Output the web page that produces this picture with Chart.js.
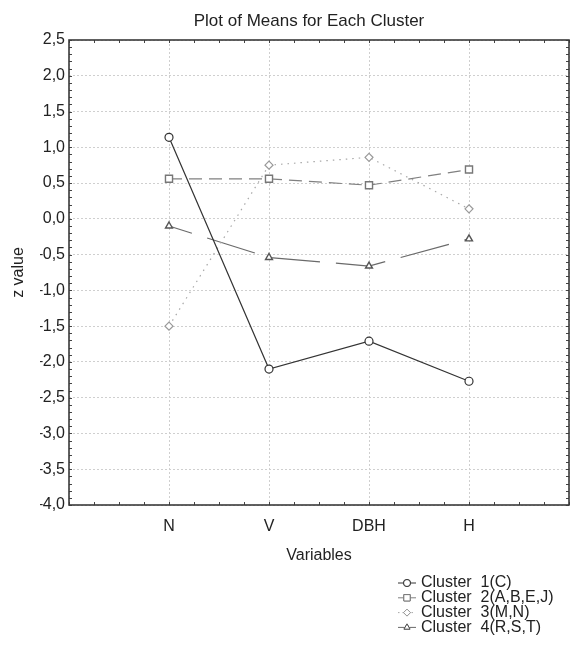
<!DOCTYPE html>
<html>
<head>
<meta charset="utf-8">
<script src="https://cdn.jsdelivr.net/npm/chart.js@4.4.1/dist/chart.umd.min.js"></script>
<style>
    body { margin: 0; background: #fff; }
    #wrap { width: 581px; height: 656px; }
</style>
</head>
<body>
<div id="wrap"><canvas id="meansChart" width="581" height="656"></canvas></div>
<script>
// Variables on the x axis (placed at 1..4)
const variables = ['N', 'V', 'DBH', 'H'];

// Cluster means (z values)
const cluster1 = [1.14, -2.10, -1.71, -2.27];
const cluster2 = [0.56, 0.56, 0.47, 0.69];
const cluster3 = [-1.50, 0.75, 0.86, 0.14];
const cluster4 = [-0.10, -0.54, -0.66, -0.28];

const clusterNames = ['Cluster  1(C)', 'Cluster  2(A,B,E,J)', 'Cluster  3(M,N)', 'Cluster  4(R,S,T)'];

const yMin = -4.0;
const yMax = 2.5;

const FONT = "'Liberation Sans', Arial, sans-serif";

function toPoints(values) {
    return values.map((v, i) => ({ x: i + 1, y: v }));
}

// formats 2.5 -> "2,5", -4 -> "–4,0"
function fmtTick(v) {
    return v.toFixed(1).replace('.', ',').replace('-', '\u2013');
}

// Box round the plot, inward ticks and legend below it
const framePlugin = {
    id: 'frame',
    afterDraw(chart) {
        const ctx = chart.ctx;
        const area = chart.chartArea;
        const xs = chart.scales.x;
        const ys = chart.scales.y;
        ctx.save();
        ctx.strokeStyle = '#444';
        ctx.lineWidth = 1;
        ctx.setLineDash([]);
        ctx.beginPath();
        for (let v = yMin; v <= yMax + 1e-9; v += 0.1) {
            const y = Math.round(ys.getPixelForValue(v)) + 0.5;
            ctx.moveTo(area.left, y); ctx.lineTo(area.left + 3, y);
            ctx.moveTo(area.right, y); ctx.lineTo(area.right - 3, y);
        }
        for (let v = 0; v <= 5; v += 0.25) {
            const x = Math.round(xs.getPixelForValue(v)) + 0.5;
            ctx.moveTo(x, area.bottom); ctx.lineTo(x, area.bottom - 3);
            ctx.moveTo(x, area.top); ctx.lineTo(x, area.top + 3);
        }
        ctx.stroke();
        ctx.lineWidth = 1.6;
        ctx.strokeStyle = '#3a3a3a';
        ctx.strokeRect(area.left, area.top, area.right - area.left, area.bottom - area.top);

        // legend
        const lx = 398, tx = 421, y0 = 583, dy = 14.8;
        ctx.font = '16px ' + FONT;
        ctx.textBaseline = 'middle';
        ctx.fillStyle = '#222';
        chart.data.datasets.forEach((ds, i) => {
            const y = y0 + i * dy;
            ctx.strokeStyle = ds.borderColor;
            ctx.lineWidth = 1;
            ctx.setLineDash(i === 2 ? [1.5, 3] : []);
            ctx.beginPath();
            ctx.moveTo(lx, y); ctx.lineTo(lx + 18, y);
            ctx.stroke();
            ctx.setLineDash([]);
            Chart.helpers.drawPoint(ctx, {
                pointStyle: ds.pointStyle,
                radius: ds.pointRadius - 0.5,
                borderWidth: 1
            }, lx + 9, y);
            ctx.fillStyle = '#fff';
            ctx.strokeStyle = ds.pointBorderColor;
            ctx.fill();
            ctx.stroke();
            ctx.fillStyle = '#222';
            ctx.fillText(clusterNames[i], tx, y);
        });
        ctx.restore();
    }
};

const ctx = document.getElementById('meansChart').getContext('2d');

new Chart(ctx, {
    type: 'line',
    data: {
        datasets: [{
            label: clusterNames[0],
            data: toPoints(cluster1),
            borderColor: '#333',
            borderWidth: 1.2,
            pointStyle: 'circle',
            pointRadius: 4,
            pointBorderColor: '#333',
            pointBackgroundColor: '#fff',
            pointBorderWidth: 1.2
        }, {
            label: clusterNames[1],
            data: toPoints(cluster2),
            borderColor: '#808080',
            borderWidth: 1.2,
            borderDash: [13, 7],
            pointStyle: 'rect',
            pointRadius: 5,
            pointBorderColor: '#777',
            pointBackgroundColor: '#fff',
            pointBorderWidth: 1.4
        }, {
            label: clusterNames[2],
            data: toPoints(cluster3),
            borderColor: '#a8a8a8',
            borderWidth: 1.2,
            borderDash: [1.5, 5],
            pointStyle: 'rectRot',
            pointRadius: 4,
            pointBorderColor: '#999',
            pointBackgroundColor: '#fff',
            pointBorderWidth: 1.2
        }, {
            label: clusterNames[3],
            data: toPoints(cluster4),
            borderColor: '#6a6a6a',
            borderWidth: 1.2,
            borderDash: [50, 16],
            borderDashOffset: 26,
            pointStyle: 'triangle',
            pointRadius: 4,
            pointBorderColor: '#555',
            pointBackgroundColor: '#fff',
            pointBorderWidth: 1.4
        }]
    },
    options: {
        responsive: false,
        animation: false,
        devicePixelRatio: 1,
        layout: {
            padding: { top: 0, left: 40, right: 3, bottom: 91 }
        },
        plugins: {
            legend: { display: false },
            tooltip: { enabled: false },
            title: {
                display: true,
                text: 'Plot of Means for Each Cluster',
                color: '#222',
                font: { family: FONT, size: 17, weight: 'normal' },
                padding: { top: 11, bottom: 8.6 }
            }
        },
        scales: {
            x: {
                type: 'linear',
                min: 0,
                max: 5,
                afterFit(scale) { scale.height = 60; },
                ticks: {
                    stepSize: 1,
                    padding: 12,
                    color: '#222',
                    font: { family: FONT, size: 16 },
                    callback: (v) => variables[v - 1] || ''
                },
                grid: { color: '#cfcfcf', lineWidth: 1, drawTicks: false },
                border: { display: false, dash: [2, 2] },
                title: {
                    display: true,
                    text: 'Variables',
                    color: '#222',
                    font: { family: FONT, size: 16 },
                    padding: { top: 0, bottom: 0 }
                }
            },
            y: {
                min: yMin,
                max: yMax,
                afterFit(scale) { scale.width = 29; },
                ticks: {
                    stepSize: 0.5,
                    padding: 4,
                    color: '#222',
                    font: { family: FONT, size: 16 },
                    callback: (v) => fmtTick(v)
                },
                grid: { color: '#cfcfcf', lineWidth: 1, drawTicks: false },
                border: { display: false, dash: [2, 2] },
                title: {
                    display: true,
                    text: 'z value',
                    color: '#222',
                    font: { family: FONT, size: 16 },
                    padding: { top: -31, bottom: 0 }
                }
            }
        }
    },
    plugins: [framePlugin]
});
</script>
</body>
</html>
